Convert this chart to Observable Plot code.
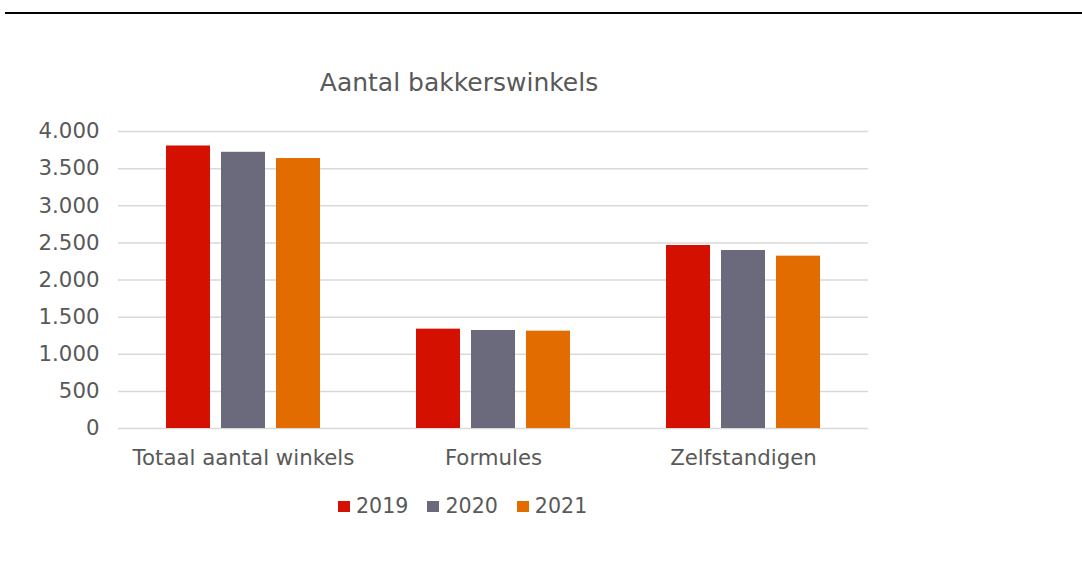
<!DOCTYPE html>
<html>
<head>
<meta charset="utf-8">
<script src="https://cdn.jsdelivr.net/npm/d3@7"></script>
<script src="https://cdn.jsdelivr.net/npm/@observablehq/plot@0.6"></script>
<style>
  html, body { margin: 0; padding: 0; background: #fff; }
  #wrap { position: relative; width: 1082px; height: 571px; overflow: hidden; font-family: "DejaVu Sans", Verdana, sans-serif; color: #595959; }
  #topline { position: absolute; left: 5px; top: 12px; width: 1077px; height: 2px; background: #000; }
  #title { position: absolute; left: 0; width: 918px; top: 69.5px; text-align: center; font-size: 25px; line-height: 1; }
  #legend { position: absolute; left: 338px; top: 495.8px; display: flex; align-items: center; font-size: 20.6px; line-height: 1; }
  .item { display: flex; align-items: center; margin-right: 19px; }
  .sw { width: 12px; height: 11px; margin-right: 6px; }
  #chart { position: absolute; left: 0; top: 0; }
</style>
</head>
<body>
<div id="wrap">
  <div id="topline"></div>
  <div id="title"></div>
  <div id="chart"></div>
  <div id="legend"></div>
</div>
<script>
const titleText = "Aantal bakkerswinkels";
const categories = ["Totaal aantal winkels", "Formules", "Zelfstandigen"];
const years = ["2019", "2020", "2021"];
const colors = ["#D41100", "#6B6A7D", "#E36C00"];
const values2019 = [3805, 1338, 2465];
const values2020 = [3720, 1320, 2397];
const values2021 = [3636, 1311, 2321];
const yTicks = [0, 500, 1000, 1500, 2000, 2500, 3000, 3500, 4000];

const seriesValues = [values2019, values2020, values2021];
const data = [];
categories.forEach((c, i) => {
  years.forEach((y, j) => data.push({cat: c, year: y, value: seriesValues[j][i]}));
});

const fmt = d => d3.format(",")(d).replace(/,/g, ".");

document.getElementById("title").textContent = titleText;

const chart = Plot.plot({
  width: 1082,
  height: 571,
  marginLeft: 118,
  marginRight: 214,
  marginTop: 131,
  marginBottom: 143,
  style: {fontFamily: "DejaVu Sans, Verdana, sans-serif", fontSize: "21.3px", color: "#595959", background: "transparent", overflow: "visible"},
  fx: {domain: categories, paddingInner: 0, paddingOuter: 0, label: null},
  x: {domain: years, paddingInner: 0.2, paddingOuter: 0.87, axis: null},
  y: {domain: [0, 4000], label: null},
  color: {domain: years, range: colors},
  marks: [
    Plot.gridY(yTicks, {stroke: "#d9d9d9", strokeOpacity: 1, strokeWidth: 1.5}),
    Plot.axisY(yTicks, {tickSize: 0, tickPadding: 19, tickFormat: fmt, label: null, fill: "#595959"}),
    Plot.axisFx({anchor: "bottom", tickSize: 0, tickPadding: 21, label: null, fill: "#595959"}),
    Plot.barY(data, {fx: "cat", x: "year", y: "value", fill: "year"})
  ]
});
document.getElementById("chart").appendChild(chart);

const legend = document.getElementById("legend");
years.forEach((y, i) => {
  const item = document.createElement("div");
  item.className = "item";
  const sw = document.createElement("div");
  sw.className = "sw";
  sw.style.background = colors[i];
  const t = document.createElement("span");
  t.textContent = y;
  item.appendChild(sw);
  item.appendChild(t);
  legend.appendChild(item);
});
</script>
</body>
</html>
